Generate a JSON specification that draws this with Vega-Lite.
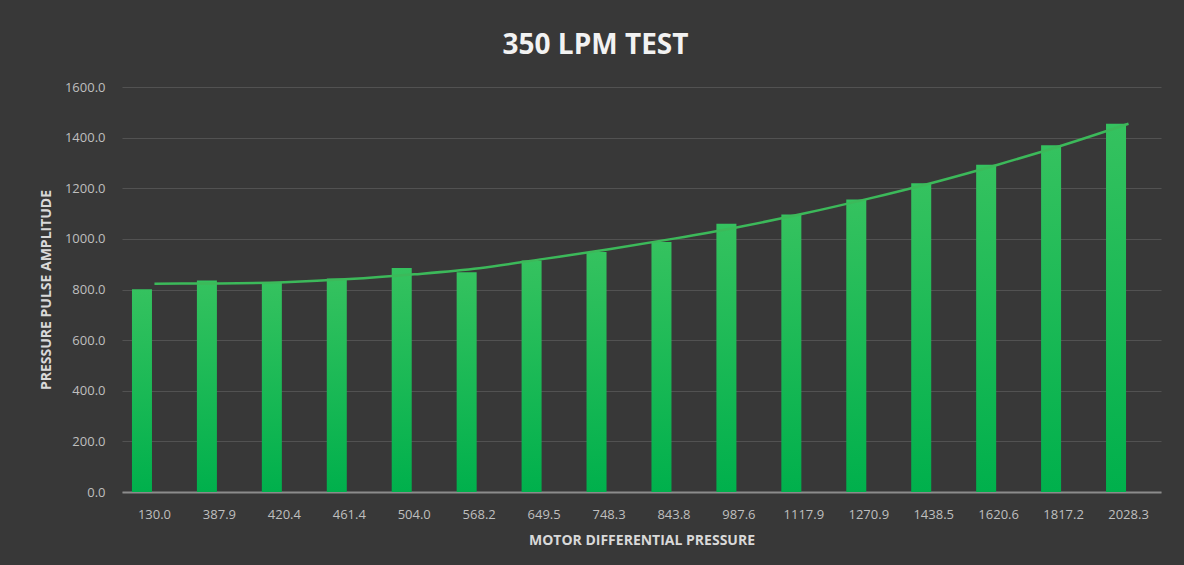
{
  "$schema": "https://vega.github.io/schema/vega-lite/v6.json",
  "autosize": "none",
  "width": 1039,
  "height": 405,
  "padding": {"left": 122, "top": 87, "right": 23, "bottom": 73},
  "background": "#383838",
  "title": {
    "text": "350 LPM TEST",
    "anchor": "middle",
    "frame": "group",
    "dx": -46,
    "offset": 21,
    "font": "Open Sans",
    "fontSize": 28,
    "fontWeight": "bold",
    "color": "#f2f2f2"
  },
  "config": {
    "view": {"stroke": null},
    "axis": {
      "labelFont": "Open Sans",
      "labelFontSize": 13,
      "labelColor": "#bfbfbf",
      "titleFont": "Open Sans",
      "titleFontSize": 14,
      "titleFontWeight": "bold",
      "titleColor": "#d9d9d9",
      "ticks": false
    }
  },
  "data": {
    "values": [
      {"mdp": "130.0", "ppa": 801, "trend": 823},
      {"mdp": "387.9", "ppa": 836, "trend": 824},
      {"mdp": "420.4", "ppa": 830, "trend": 829},
      {"mdp": "461.4", "ppa": 843, "trend": 841},
      {"mdp": "504.0", "ppa": 885, "trend": 860},
      {"mdp": "568.2", "ppa": 868, "trend": 884},
      {"mdp": "649.5", "ppa": 915, "trend": 921},
      {"mdp": "748.3", "ppa": 948, "trend": 959},
      {"mdp": "843.8", "ppa": 988, "trend": 1001},
      {"mdp": "987.6", "ppa": 1060, "trend": 1047},
      {"mdp": "1117.9", "ppa": 1096, "trend": 1100},
      {"mdp": "1270.9", "ppa": 1156, "trend": 1159},
      {"mdp": "1438.5", "ppa": 1220, "trend": 1223},
      {"mdp": "1620.6", "ppa": 1293, "trend": 1294},
      {"mdp": "1817.2", "ppa": 1370, "trend": 1371},
      {"mdp": "2028.3", "ppa": 1455, "trend": 1455}
    ]
  },
  "encoding": {
    "x": {
      "field": "mdp",
      "type": "ordinal",
      "sort": null,
      "scale": {"paddingInner": 0, "paddingOuter": 0},
      "axis": {
        "title": "MOTOR DIFFERENTIAL PRESSURE",
        "labelAngle": 0,
        "labelPadding": 16,
        "titlePadding": 12,
        "domainColor": "#8c8c8c",
        "domainWidth": 2,
        "grid": false
      }
    }
  },
  "layer": [
    {
      "mark": {
        "type": "bar",
        "width": 20,
        "xOffset": -12.5,
        "color": {
          "gradient": "linear",
          "x1": 0, "y1": 0, "x2": 0, "y2": 1,
          "stops": [
            {"offset": 0, "color": "#35c25f"},
            {"offset": 1, "color": "#00b04c"}
          ]
        }
      },
      "encoding": {
        "y": {
          "field": "ppa",
          "type": "quantitative",
          "scale": {"domain": [0, 1600]},
          "axis": {
            "title": "PRESSURE PULSE AMPLITUDE",
            "values": [0, 200, 400, 600, 800, 1000, 1200, 1400, 1600],
            "format": ".1f",
            "labelPadding": 17,
            "titlePadding": 11,
            "domain": false,
            "gridColor": "#525252",
            "gridWidth": 1
          }
        }
      }
    },
    {
      "mark": {"type": "line", "color": "#3cb95a", "strokeWidth": 2.5, "interpolate": "monotone"},
      "encoding": {
        "y": {"field": "trend", "type": "quantitative"}
      }
    }
  ]
}
